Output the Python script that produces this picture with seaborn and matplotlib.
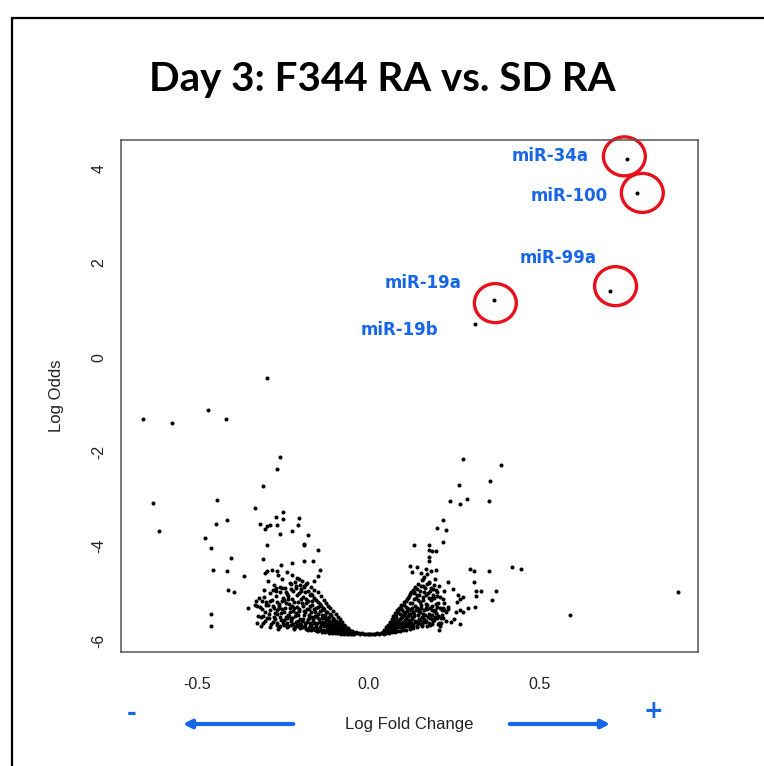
import matplotlib
matplotlib.use("Agg")
import matplotlib.pyplot as plt
import seaborn as sns
import pandas as pd
from matplotlib.patches import Ellipse, Rectangle, FancyArrowPatch
from matplotlib import transforms

# ---------------- data ----------------
title_text = "Day 3: F344 RA vs. SD RA"
x_label = "Log Fold Change"
y_label = "Log Odds"
x_ticks = [-0.5, 0.0, 0.5]
x_tick_labels = ["-0.5", "0.0", "0.5"]
y_ticks = [-6, -4, -2, 0, 2, 4]
y_tick_labels = ["-6", "-4", "-2", "0", "2", "4"]

highlight_names = ["miR-34a", "miR-100", "miR-99a", "miR-19a", "miR-19b"]
highlight_lfc = [0.755, 0.784, 0.703, 0.367, 0.312]
highlight_logodds = [4.19, 3.48, 1.40, 1.21, 0.70]
circled = [True, True, True, True, False]

core_left = [
    (-0.003, -5.86), (-0.008, -5.85), (-0.012, -5.85), (-0.018, -5.84), (-0.024, -5.85), (-0.028, -5.83),
    (-0.033, -5.84), (-0.036, -5.82), (-0.041, -5.85), (-0.044, -5.81), (-0.047, -5.83), (-0.051, -5.79),
    (-0.053, -5.84), (-0.056, -5.77), (-0.058, -5.81), (-0.061, -5.74), (-0.063, -5.83), (-0.066, -5.78),
    (-0.068, -5.70), (-0.071, -5.81), (-0.073, -5.66), (-0.075, -5.75), (-0.077, -5.60), (-0.079, -5.79),
    (-0.081, -5.71), (-0.083, -5.55), (-0.085, -5.64), (-0.087, -5.82), (-0.089, -5.49), (-0.091, -5.76),
    (-0.092, -5.68), (-0.094, -5.58), (-0.096, -5.43), (-0.098, -5.80), (-0.099, -5.72), (-0.101, -5.63),
    (-0.103, -5.52), (-0.105, -5.37), (-0.106, -5.78), (-0.108, -5.67), (-0.110, -5.45), (-0.111, -5.31),
    (-0.113, -5.74), (-0.115, -5.58), (-0.117, -5.26), (-0.118, -5.80), (-0.120, -5.64), (-0.122, -5.40),
    (-0.124, -5.20), (-0.125, -5.70), (-0.127, -5.52), (-0.129, -5.33), (-0.131, -5.14), (-0.132, -5.77),
    (-0.134, -5.60), (-0.136, -5.45), (-0.138, -5.05), (-0.139, -5.26), (-0.141, -5.72), (-0.143, -5.38),
    (-0.145, -5.55), (-0.147, -4.98), (-0.148, -5.18), (-0.150, -5.79), (-0.152, -5.65), (-0.154, -5.31),
    (-0.156, -5.47), (-0.158, -4.92), (-0.159, -5.10), (-0.161, -5.74), (-0.163, -5.58), (-0.165, -5.24),
    (-0.167, -5.40), (-0.169, -4.86), (-0.171, -5.03), (-0.172, -5.68), (-0.174, -5.51), (-0.176, -5.15),
    (-0.178, -5.77), (-0.180, -5.34), (-0.182, -4.80), (-0.184, -4.97), (-0.186, -5.62), (-0.188, -5.45),
    (-0.190, -5.08), (-0.192, -5.27), (-0.194, -4.73), (-0.196, -5.71), (-0.198, -4.90), (-0.200, -5.55),
    (-0.202, -5.38), (-0.204, -5.00), (-0.206, -5.19), (-0.208, -4.68), (-0.210, -5.66), (-0.212, -4.84),
    (-0.214, -5.47), (-0.216, -5.30), (-0.218, -5.75), (-0.220, -4.94), (-0.222, -5.12), (-0.224, -4.62),
    (-0.226, -5.58), (-0.228, -5.40), (-0.230, -4.78), (-0.232, -5.22), (-0.234, -5.05), (-0.236, -5.69),
    (-0.238, -4.55), (-0.240, -5.50), (-0.243, -4.88), (-0.245, -5.31), (-0.247, -5.14), (-0.250, -5.62),
    (-0.252, -4.70), (-0.255, -5.42), (-0.257, -4.97), (-0.260, -5.23), (-0.262, -5.72), (-0.265, -4.60),
    (-0.268, -5.36), (-0.270, -5.06), (-0.273, -5.55), (-0.276, -4.82), (-0.279, -5.27), (-0.282, -4.51),
    (-0.285, -5.65), (-0.288, -5.00), (-0.291, -5.44), (-0.294, -4.74), (-0.298, -5.18), (-0.302, -5.58),
    (-0.306, -4.92), (-0.310, -5.32), (-0.315, -5.49), (-0.320, -5.10), (-0.326, -5.62), (-0.332, -5.25),
    (-0.046, -5.86), (-0.052, -5.85), (-0.057, -5.86), (-0.062, -5.85), (-0.067, -5.84), (-0.072, -5.85),
    (-0.076, -5.84), (-0.080, -5.85), (-0.084, -5.83), (-0.088, -5.84), (-0.093, -5.83), (-0.097, -5.84),
    (-0.102, -5.82), (-0.107, -5.83), (-0.112, -5.81), (-0.116, -5.83), (-0.121, -5.80), (-0.126, -5.82),
    (-0.130, -5.79), (-0.135, -5.81), (-0.140, -5.78), (-0.146, -5.80), (-0.151, -5.76), (-0.157, -5.78),
    (-0.162, -5.75), (-0.168, -5.77), (-0.175, -5.73), (-0.183, -5.76), (-0.191, -5.72), (-0.199, -5.74),
    (-0.207, -5.70), (-0.217, -5.73), (-0.227, -5.67), (-0.237, -5.71), (-0.248, -5.66), (-0.258, -5.69),
    (-0.070, -5.73), (-0.078, -5.69), (-0.082, -5.76), (-0.086, -5.61), (-0.090, -5.71), (-0.095, -5.66),
    (-0.100, -5.57), (-0.104, -5.74), (-0.109, -5.60), (-0.114, -5.50), (-0.119, -5.69), (-0.123, -5.57),
    (-0.128, -5.45), (-0.133, -5.66), (-0.137, -5.36), (-0.142, -5.61), (-0.146, -5.28), (-0.149, -5.50),
    (-0.153, -5.71), (-0.157, -5.39), (-0.160, -5.62), (-0.164, -5.17), (-0.166, -5.50), (-0.170, -5.62),
    (-0.173, -5.33), (-0.177, -5.55), (-0.181, -5.21), (-0.185, -5.68), (-0.189, -5.38), (-0.193, -5.58),
    (-0.197, -5.12), (-0.201, -5.64), (-0.205, -5.45), (-0.209, -5.28), (-0.213, -5.60), (-0.219, -5.37),
    (-0.223, -5.52), (-0.229, -5.30), (-0.235, -5.46), (-0.241, -5.20), (-0.246, -5.56), (-0.253, -5.33),
    (-0.259, -5.50), (-0.266, -5.18), (-0.272, -5.42), (-0.280, -5.60), (-0.287, -5.35),
    (-0.049, -5.80), (-0.055, -5.82), (-0.060, -5.79), (-0.064, -5.76), (-0.069, -5.80), (-0.074, -5.72),
    (-0.078, -5.78), (-0.082, -5.66), (-0.086, -5.74), (-0.090, -5.63), (-0.094, -5.77), (-0.097, -5.60),
    (-0.101, -5.69), (-0.104, -5.54), (-0.107, -5.72), (-0.110, -5.62), (-0.113, -5.44), (-0.116, -5.66),
    (-0.119, -5.52), (-0.122, -5.76), (-0.125, -5.40), (-0.128, -5.60), (-0.131, -5.70), (-0.134, -5.30),
    (-0.137, -5.52), (-0.140, -5.66), (-0.143, -5.22), (-0.146, -5.44), (-0.149, -5.62), (-0.152, -5.14),
    (-0.155, -5.74), (-0.158, -5.34), (-0.161, -5.54), (-0.164, -5.04), (-0.167, -5.66), (-0.170, -5.26),
    (-0.173, -5.46), (-0.176, -4.94), (-0.179, -5.60), (-0.182, -5.12), (-0.185, -5.40), (-0.188, -4.86),
    (-0.191, -5.55), (-0.194, -5.20), (-0.197, -5.66), (-0.200, -4.82), (-0.203, -5.32), (-0.206, -5.58),
    (-0.209, -5.04), (-0.212, -5.42), (-0.215, -4.76), (-0.218, -5.18), (-0.221, -5.64), (-0.224, -5.26),
    (-0.227, -4.90), (-0.231, -5.48), (-0.234, -5.12), (-0.238, -5.62), (-0.242, -4.98), (-0.246, -5.40),
    (-0.250, -5.10), (-0.254, -5.56), (-0.258, -4.86), (-0.262, -5.30), (-0.267, -5.62), (-0.271, -4.95),
    (-0.276, -5.50), (-0.281, -5.14), (-0.286, -5.72), (-0.292, -5.25), (-0.297, -5.52), (-0.303, -5.40),
    (-0.309, -5.62), (-0.318, -5.28),
]

core_right = [
    (0.001, -5.85), (0.005, -5.86), (0.010, -5.85), (0.015, -5.86), (0.020, -5.85), (0.025, -5.84),
    (0.030, -5.85), (0.035, -5.84), (0.040, -5.83), (0.044, -5.85), (0.048, -5.82), (0.052, -5.84),
    (0.056, -5.80), (0.060, -5.83), (0.064, -5.78), (0.068, -5.82), (0.072, -5.76), (0.076, -5.81),
    (0.080, -5.74), (0.084, -5.80), (0.088, -5.72), (0.092, -5.79), (0.096, -5.70), (0.100, -5.78),
    (0.105, -5.68), (0.110, -5.77), (0.115, -5.65), (0.120, -5.76), (0.125, -5.62), (0.130, -5.74),
    (0.136, -5.60), (0.142, -5.72), (0.148, -5.57), (0.155, -5.70), (0.162, -5.55), (0.170, -5.68),
    (0.178, -5.52), (0.186, -5.65), (0.195, -5.50),
    (0.045, -5.78), (0.050, -5.72), (0.054, -5.76), (0.057, -5.66), (0.059, -5.71), (0.062, -5.60),
    (0.065, -5.74), (0.067, -5.54), (0.069, -5.66), (0.071, -5.48), (0.073, -5.70), (0.075, -5.58),
    (0.077, -5.42), (0.079, -5.63), (0.081, -5.50), (0.083, -5.36), (0.085, -5.68), (0.087, -5.56),
    (0.089, -5.30), (0.091, -5.44), (0.093, -5.62), (0.095, -5.24), (0.097, -5.50), (0.099, -5.36),
    (0.101, -5.66), (0.103, -5.18), (0.105, -5.56), (0.107, -5.42), (0.109, -5.28), (0.111, -5.12),
    (0.113, -5.62), (0.115, -5.48), (0.117, -5.06), (0.119, -5.34), (0.121, -5.20), (0.123, -4.98),
    (0.125, -5.70), (0.127, -5.54), (0.129, -4.92), (0.131, -5.40), (0.133, -5.12), (0.135, -5.26),
    (0.137, -4.86), (0.139, -5.60), (0.141, -5.04), (0.143, -5.46), (0.145, -4.80), (0.147, -5.32),
    (0.149, -5.18), (0.151, -4.95), (0.153, -5.64), (0.155, -4.72), (0.157, -5.50), (0.159, -5.08),
    (0.161, -5.36), (0.163, -4.66), (0.165, -4.88), (0.167, -5.22), (0.169, -5.58), (0.171, -4.58),
    (0.173, -5.00), (0.175, -5.44), (0.177, -4.76), (0.179, -5.30), (0.181, -5.14), (0.183, -4.52),
    (0.185, -5.54), (0.187, -4.90), (0.190, -5.38), (0.193, -4.70), (0.196, -5.22), (0.199, -5.06),
    (0.202, -5.48), (0.205, -4.84), (0.208, -5.30), (0.212, -5.62), (0.216, -5.12), (0.220, -4.95),
    (0.225, -5.40),
    (0.063, -5.80), (0.070, -5.77), (0.078, -5.75), (0.082, -5.69), (0.086, -5.60), (0.090, -5.66),
    (0.094, -5.52), (0.098, -5.73), (0.102, -5.46), (0.106, -5.64), (0.108, -5.50), (0.112, -5.38),
    (0.116, -5.70), (0.118, -5.56), (0.122, -5.44), (0.126, -5.30), (0.128, -5.64), (0.132, -5.48),
    (0.134, -5.00), (0.138, -5.36), (0.140, -5.68), (0.144, -5.14), (0.146, -5.55), (0.150, -5.40),
    (0.154, -5.24), (0.158, -5.60), (0.160, -4.84), (0.164, -5.46), (0.168, -5.04), (0.172, -5.34),
    (0.176, -5.62), (0.180, -4.95), (0.184, -5.26), (0.188, -5.58), (0.192, -5.10), (0.197, -5.42),
    (0.203, -5.20), (0.210, -5.52), (0.218, -5.30),
    (0.160, -4.70), (0.175, -4.78), (0.190, -4.83), (0.200, -4.98), (0.185, -5.10), (0.170, -5.25),
    (0.195, -5.36), (0.214, -5.36), (0.185, -5.45),
    (0.042, -5.81), (0.047, -5.79), (0.051, -5.77), (0.055, -5.73), (0.058, -5.78), (0.061, -5.68),
    (0.064, -5.72), (0.066, -5.62), (0.069, -5.76), (0.072, -5.58), (0.074, -5.64), (0.076, -5.52),
    (0.079, -5.70), (0.081, -5.44), (0.083, -5.60), (0.086, -5.40), (0.088, -5.64), (0.090, -5.34),
    (0.092, -5.54), (0.094, -5.70), (0.096, -5.30), (0.098, -5.46), (0.100, -5.60), (0.102, -5.24),
    (0.104, -5.40), (0.106, -5.70), (0.108, -5.16), (0.110, -5.54), (0.112, -5.30), (0.114, -5.66),
    (0.116, -5.10), (0.118, -5.44), (0.120, -5.60), (0.122, -5.02), (0.124, -5.36), (0.126, -5.50),
    (0.128, -5.20), (0.130, -5.66), (0.132, -4.96), (0.134, -5.44), (0.136, -5.58), (0.138, -5.10),
    (0.140, -5.30), (0.142, -4.90), (0.144, -5.62), (0.146, -5.40), (0.148, -5.04), (0.150, -5.56),
    (0.152, -4.84), (0.154, -5.30), (0.156, -5.66), (0.158, -5.14), (0.160, -5.44), (0.162, -4.96),
    (0.165, -5.60), (0.168, -5.30), (0.171, -4.80), (0.174, -5.50), (0.177, -5.10), (0.180, -5.66),
    (0.183, -4.88), (0.186, -5.36), (0.189, -5.04), (0.192, -5.56), (0.196, -4.92), (0.200, -5.28),
    (0.204, -5.64), (0.209, -5.08), (0.214, -5.46), (0.220, -5.20), (0.226, -5.58), (0.232, -5.34),
    (0.240, -5.60),
]

scatter_left = [
    (-0.657, -1.30), (-0.574, -1.40), (-0.468, -1.11), (-0.417, -1.30), (-0.295, -0.44),
    (-0.629, -3.08), (-0.610, -3.68), (-0.259, -2.11), (-0.268, -2.37), (-0.308, -2.73),
    (-0.441, -3.03), (-0.444, -3.52), (-0.414, -3.45), (-0.477, -3.83), (-0.459, -4.03),
    (-0.453, -4.50), (-0.413, -4.52), (-0.401, -4.25), (-0.364, -4.63), (-0.411, -4.93),
    (-0.393, -4.98), (-0.459, -5.43), (-0.459, -5.69), (-0.353, -5.31), (-0.331, -3.19),
    (-0.317, -3.52), (-0.301, -3.63), (-0.297, -3.57), (-0.286, -3.55), (-0.268, -3.56),
    (-0.250, -3.28), (-0.270, -3.38), (-0.250, -3.42), (-0.204, -3.41), (-0.207, -3.55),
    (-0.222, -3.68), (-0.259, -3.74), (-0.177, -3.76), (-0.295, -3.98), (-0.189, -3.95),
    (-0.188, -3.98), (-0.147, -4.07), (-0.308, -4.28), (-0.295, -4.52), (-0.301, -4.57),
    (-0.268, -4.52), (-0.256, -4.40), (-0.222, -4.36), (-0.189, -4.32), (-0.162, -4.32),
    (-0.141, -4.50), (-0.147, -4.64),
    (-0.329, -5.17), (-0.324, -5.26), (-0.311, -5.17), (-0.298, -5.25), (-0.305, -5.07),
    (-0.286, -5.16), (-0.276, -5.31), (-0.262, -5.26), (-0.252, -5.17), (-0.266, -5.44),
    (-0.289, -5.51), (-0.322, -5.48), (-0.308, -5.48), (-0.314, -5.69), (-0.268, -5.67),
    (-0.265, -5.76), (-0.278, -4.93), (-0.271, -4.89), (-0.252, -4.88), (-0.237, -5.02),
    (-0.227, -4.81), (-0.213, -4.88), (-0.203, -4.70), (-0.198, -4.95), (-0.189, -4.84),
    (-0.179, -4.77), (-0.159, -4.74), (-0.169, -5.02), (-0.237, -5.51), (-0.227, -5.55),
    (-0.214, -5.72),
]

scatter_right = [
    (0.277, -2.16), (0.387, -2.28), (0.354, -2.62), (0.264, -2.71), (0.237, -3.05),
    (0.268, -3.10), (0.286, -3.01), (0.350, -3.05), (0.217, -3.45), (0.201, -3.61),
    (0.226, -3.65), (0.216, -3.92), (0.134, -3.97), (0.175, -3.97), (0.175, -4.08),
    (0.184, -4.11), (0.198, -4.11), (0.175, -4.23), (0.175, -4.31), (0.122, -4.41),
    (0.128, -4.54), (0.142, -4.45), (0.152, -4.57), (0.167, -4.48), (0.198, -4.50),
    (0.295, -4.48), (0.309, -4.52), (0.350, -4.52), (0.418, -4.43), (0.445, -4.48),
    (0.233, -4.75), (0.309, -4.75), (0.246, -4.91), (0.314, -4.94), (0.327, -4.95),
    (0.372, -4.95), (0.360, -5.13), (0.314, -5.05), (0.262, -5.03), (0.277, -5.07),
    (0.268, -5.11), (0.259, -5.18), (0.289, -5.31), (0.311, -5.28), (0.267, -5.35),
    (0.256, -5.39), (0.275, -5.39), (0.249, -5.55), (0.268, -5.64), (0.231, -5.28),
    (0.219, -5.36), (0.204, -5.48), (0.218, -5.51), (0.207, -5.62), (0.208, -5.69),
    (0.206, -5.77), (0.200, -5.53), (0.588, -5.46), (0.902, -4.97),
]

# ---------------- build table ----------------
all_pts = core_left + core_right + scatter_left + scatter_right
df = pd.DataFrame(all_pts, columns=["lfc", "logodds"])
df_hi = pd.DataFrame({"name": highlight_names, "lfc": highlight_lfc, "logodds": highlight_logodds})
df = pd.concat([df, df_hi[["lfc", "logodds"]]], ignore_index=True)

sns.set_style("white")
plt.rcParams["font.family"] = ["Liberation Sans", "DejaVu Sans"]

W, H = 764, 766
fig = plt.figure(figsize=(W / 100, H / 100), dpi=100)
ax = fig.add_axes([121 / W, 1 - 652 / H, 577 / W, 512 / H])

sns.scatterplot(data=df, x="lfc", y="logodds", ax=ax, color="black", s=8.5,
                linewidth=0, edgecolor=None, legend=False)

ax.set_xlim(-0.722, 0.961)
ax.set_ylim(-6.24, 4.60)
ax.set_xticks(x_ticks)
ax.set_xticklabels(x_tick_labels)
ax.set_yticks(y_ticks)
ax.set_yticklabels(y_tick_labels, rotation=90, va="center")
ax.tick_params(axis="both", direction="out", length=7, width=1, color="#555555",
               labelsize=11.5, labelcolor="#222222")
ax.tick_params(axis="x", pad=11)
ax.tick_params(axis="y", pad=3.5)
for sp in ax.spines.values():
    sp.set_color("#555555")
    sp.set_linewidth(1.1)

ax.set_xlabel(x_label, fontsize=12, color="#222222")
ax.set_ylabel(y_label, fontsize=12, color="#222222")
ax.xaxis.label.set_va("center")
ax.yaxis.label.set_va("center")
ax.xaxis.set_label_coords(0.5, (652 - 724) / 512)
ax.yaxis.set_label_coords((57 - 121) / 577, 0.5)

blue = "#1766E8"
label_offsets = [(-77, 3), (-68, -3), (-51, 33), (-71, 17), (-76, -6)]
circle_offsets = [(-3, 3), (5, 0), (6, 5), (1, -3), (0, 0)]
for name, lx, ly, off, coff, circ in zip(highlight_names, highlight_lfc, highlight_logodds,
                                         label_offsets, circle_offsets, circled):
    ax.annotate(name, xy=(lx, ly), xytext=off, textcoords="offset pixels",
                ha="center", va="center", color=blue, fontsize=12, fontweight="bold",
                family=["DejaVu Sans"])
    if circ:
        tr = transforms.offset_copy(ax.transData, fig=fig, x=coff[0], y=coff[1], units="dots")
        ax.add_patch(Ellipse((lx, ly), width=42 / 343.6, height=39 / 47.24,
                             transform=tr, fill=False, edgecolor="#E8101A", linewidth=2.4,
                             clip_on=False))

# title
fig.text(0.5, 1 - 80 / H, title_text, ha="center", va="center", fontsize=29,
         fontweight="bold", family=["Lato", "DejaVu Sans"], color="black")

# direction arrows and signs
ya = 1 - 724 / H
fig.add_artist(FancyArrowPatch((296 / W, ya), (180 / W, ya), transform=fig.transFigure,
                               arrowstyle="-|>", mutation_scale=12, linewidth=3, color=blue))
fig.add_artist(FancyArrowPatch((507 / W, ya), (613 / W, ya), transform=fig.transFigure,
                               arrowstyle="-|>", mutation_scale=12, linewidth=3, color=blue))
fig.text(132 / W, 1 - 713 / H, "-", ha="center", va="center", fontsize=17, fontweight="bold",
         color=blue, family=["DejaVu Sans"])
fig.text(653 / W, 1 - 711 / H, "+", ha="center", va="center", fontsize=17, fontweight="bold",
         color=blue, family=["DejaVu Sans"])

# outer frame
fig.add_artist(Rectangle((12 / W, -0.2), 2.0, 1 - 18 / H + 0.2, transform=fig.transFigure,
                         fill=False, edgecolor="black", linewidth=1.6))

fig.savefig("out.png", dpi=100)
